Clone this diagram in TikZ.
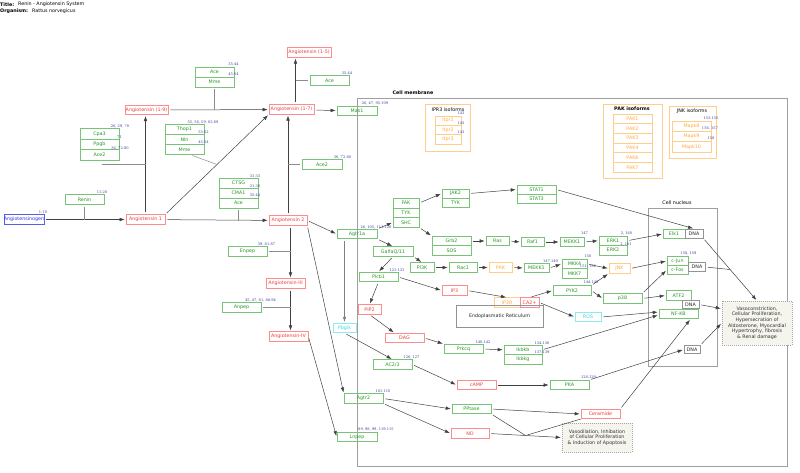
\documentclass[tikz,border=0pt]{standalone}
\usepackage{fontspec}
\setmainfont{DejaVu Sans}
\newfontfamily\numserif{DejaVu Serif}
\usetikzlibrary{arrows.meta,calc}
\definecolor{gbord}{RGB}{120,195,120}
\definecolor{gtext}{RGB}{40,150,40}
\definecolor{rbord}{RGB}{255,140,140}
\definecolor{rtext}{RGB}{235,60,60}
\definecolor{obord}{RGB}{255,205,140}
\definecolor{otext}{RGB}{255,170,60}
\definecolor{cbord}{RGB}{140,235,235}
\definecolor{ctext}{RGB}{60,215,215}
\definecolor{bbord}{RGB}{90,90,235}
\definecolor{btext}{RGB}{50,50,220}
\definecolor{numc}{RGB}{60,60,160}
\definecolor{phenfill}{RGB}{245,245,238}
\newcommand{\boxfont}{\fontsize{4.8}{5.6}\selectfont}
\newcommand{\numfont}{\numserif\fontsize{3.6}{4}\selectfont}
\begin{document}
\begin{tikzpicture}[x=1pt,y=-1pt,
  gbox/.style={draw=gbord,text=gtext,line width=0.6pt,inner sep=0pt,minimum height=9.5pt,font=\boxfont},
  rbox/.style={gbox,draw=rbord,text=rtext},
  obox/.style={gbox,draw=obord,text=otext},
  cbox/.style={gbox,draw=cbord,text=ctext},
  bbox/.style={gbox,draw=bbord,text=btext},
  dbox/.style={gbox,draw=gray!85,text=black!85},
  phen/.style={draw=gray!70,dash pattern=on 1pt off 1pt,fill=phenfill,text=black!80,font=\boxfont,align=center,inner sep=0pt,line width=0.5pt},
  num/.style={text=numc,font=\numfont,inner sep=0pt},
  wd/.style={minimum width=#1pt},
  ht/.style={minimum height=#1pt},
  rxn/.style={draw=black!75,line width=0.5pt,-{Latex[length=5pt,width=3.6pt]},shorten >=1pt,shorten <=2pt},
  cat/.style={draw=black!45,line width=0.5pt,shorten <=2pt},
  zone/.style={draw=gray!75,line width=0.8pt}
]
\useasboundingbox (0,0) rectangle (800,472);

\node[anchor=west,inner sep=0pt,font=\boxfont\bfseries] (ttl) at (0,4.5) {Title:};
\node[anchor=west,inner sep=0pt,font=\boxfont] (ttltxt) at (18,4.5) {Renin - Angiotensin System};
\node[anchor=west,inner sep=0pt,font=\boxfont\bfseries] (org) at (0,11) {Organism:};
\node[anchor=west,inner sep=0pt,font=\boxfont] (orgtxt) at (32,11) {Rattus norvegicus};

\draw[zone] (357,98) rectangle (787,466);
\node[inner sep=0pt,font=\boxfont\bfseries] (memlbl) at (413,93) {Cell membrane};
\draw[zone] (648,208) rectangle (717,366);
\node[inner sep=0pt,font=\boxfont] (nuclbl) at (677,203) {Cell nucleus};

\draw[draw=obord,line width=0.8pt] (425,104) rectangle (470,151);
\node[inner sep=0pt,font=\boxfont] (iprlbl) at (448,110) {IPR3 isoforms};
\draw[draw=obord,line width=0.8pt] (603,104) rectangle (662,178);
\node[inner sep=0pt,font=\boxfont\bfseries] (paklbl) at (632,108.5) {PAK isoforms};
\draw[draw=obord,line width=0.8pt] (669,106) rectangle (716,158);
\node[inner sep=0pt,font=\boxfont] (jnklbl) at (692,111) {JNK isoforms};

\node[bbox,wd=38] (agen) at (24,219.5) {Angiotensinogen};
\node[gbox,wd=39] (renin) at (84.5,199.5) {Renin};
\node[rbox,wd=39] (ang1) at (145.5,219.5) {Angiotensin 1};
\node[gbox,wd=39,ht=10.5] (cpa3) at (99.5,134) {Cpa3};
\node[gbox,wd=39,ht=10.5] (ppgb) at (99.5,144.5) {Ppgb};
\node[gbox,wd=39,ht=10.5] (ace2a) at (99.5,155) {Ace2};
\node[rbox,wd=43] (ang19) at (146.5,110) {Angiotensin (1-9)};
\node[gbox,wd=39,ht=10] (thop1) at (184.5,129.5) {Thop1};
\node[gbox,wd=39,ht=10] (nln) at (184.5,139.5) {Nln};
\node[gbox,wd=39,ht=10] (mme) at (184.5,149.5) {Mme};
\node[gbox,wd=39,ht=10] (acea) at (214.5,72) {Ace};
\node[gbox,wd=39,ht=10] (mmea) at (214.5,82) {Mme};
\node[rbox,wd=44] (ang15) at (309,52.5) {Angiotensin (1-5)};
\node[gbox,wd=39] (aceb) at (329.5,80.5) {Ace};
\node[rbox,wd=45] (ang17) at (291.5,109.5) {Angiotensin (1-7)};
\node[gbox,wd=40] (mas1) at (357,111) {Mas1};
\node[gbox,wd=40] (ace2b) at (322,164.5) {Ace2};
\node[gbox,wd=39,ht=10] (ctsg) at (238.5,183) {CTSG};
\node[gbox,wd=39,ht=10] (cma1) at (238.5,193) {CMA1};
\node[gbox,wd=39,ht=10] (acec) at (238.5,203) {Ace};
\node[rbox,wd=38] (ang2) at (288,220.5) {Angiotensin 2};
\node[gbox,wd=39] (enpep) at (247.5,251.5) {Enpep};
\node[rbox,wd=39] (ang3) at (285.5,283.5) {Angiotensin-III};
\node[gbox,wd=39] (anpep) at (241.5,307.5) {Anpep};
\node[rbox,wd=39] (ang4) at (288.5,336.5) {Angiotensin-IV};
\node[gbox,wd=40] (agtr1a) at (357,234) {Agtr1a};
\node[cbox,wd=23] (pbgik) at (344.5,328) {Pbgik};
\node[gbox,wd=39] (agtr2) at (363.5,398.5) {Agtr2};
\node[gbox,wd=40] (lnpep) at (357,437) {Lnpep};

\node[obox,wd=26,ht=9.3] (itpr1) at (448,120.7) {Itpr1};
\node[obox,wd=26,ht=9.3] (itpr2) at (448,130) {Itpr2};
\node[obox,wd=26,ht=9.3] (itpr3) at (448,139.3) {Itpr3};
\node[obox,wd=39,ht=9.7] (pak1) at (632.5,118.8) {PAK1};
\node[obox,wd=39,ht=9.7] (pak2) at (632.5,128.5) {PAK2};
\node[obox,wd=39,ht=9.7] (pak3) at (632.5,138.2) {PAK3};
\node[obox,wd=39,ht=9.7] (pak4) at (632.5,147.9) {PAK4};
\node[obox,wd=39,ht=9.7] (pak6) at (632.5,157.6) {PAK6};
\node[obox,wd=39,ht=9.7] (pak7) at (632.5,167.3) {PAK7};
\node[obox,wd=39,ht=10.3] (mapk8) at (691.5,126.2) {Mapk8};
\node[obox,wd=39,ht=10.3] (mapk9) at (691.5,136.5) {Mapk9};
\node[obox,wd=39,ht=10.3] (mapk10) at (691.5,146.8) {Mapk10};

\node[gbox,wd=26,ht=9.7] (fak) at (406,203) {FAK};
\node[gbox,wd=26,ht=9.7] (tyk) at (406,212.7) {TYK};
\node[gbox,wd=26,ht=9.7] (shc) at (406,222.4) {SHC};
\node[gbox,wd=27,ht=9] (jak2) at (455.5,193.5) {JAK2};
\node[gbox,wd=27,ht=9] (tykb) at (455.5,202.5) {TYK};
\node[gbox,wd=39,ht=9] (stat1) at (536.5,189.5) {STAT1};
\node[gbox,wd=39,ht=9] (stat3) at (536.5,198.5) {STAT3};
\node[gbox,wd=39,ht=9.5] (grb2) at (451.5,241) {Grb2};
\node[gbox,wd=39,ht=9.5] (sos) at (451.5,250.5) {SOS};
\node[gbox,wd=23] (ras) at (497.5,241) {Ras};
\node[gbox,wd=23] (raf1) at (532.5,242) {Raf1};
\node[gbox,wd=24] (mekk1) at (572,242) {MEKK1};
\node[gbox,wd=28,ht=9.5] (erk1) at (613,240.7) {ERK1};
\node[gbox,wd=28,ht=9.5] (erk2) at (613,250.2) {ERK2};
\node[gbox,wd=40] (galfa) at (393,251.5) {GalfaQ/11};
\node[gbox,wd=24] (pi3k) at (422,267.5) {PI3K};
\node[gbox,wd=28] (rac1) at (463,267.5) {Rac1};
\node[obox,wd=23] (pak) at (500.5,267.5) {PAK};
\node[gbox,wd=25] (mekk1b) at (536.5,268) {MEKK1};
\node[gbox,wd=25,ht=9.5] (mkk4) at (574.5,264) {MKK4};
\node[gbox,wd=25,ht=9.5] (mkk7) at (574.5,273.5) {MKK7};
\node[obox,wd=21] (jnk) at (619.5,268.5) {JNK};
\node[gbox,wd=39] (plcb1) at (378.5,277) {Plcb1};
\node[rbox,wd=25] (ip3) at (454.5,290.5) {IP3};
\node[rbox,wd=23] (pip2) at (369.5,309.5) {PIP2};
\node[obox,wd=26] (ip3r) at (507,302.5) {IP3R};
\node[rbox,wd=19] (ca2) at (529.5,302.5) {CA2+};
\node[dbox,wd=87,ht=22] (er) at (499.5,316) {Endoplasmatic Reticulum};
\node[gbox,wd=38] (pyk2) at (572,290.5) {PYK2};
\node[cbox,wd=26] (ros) at (588,317) {ROS};
\node[rbox,wd=39] (dag) at (404.5,338) {DAG};
\node[gbox,wd=39] (prkcq) at (463.5,349) {Prkcq};
\node[gbox,wd=38,ht=9.7] (ikbkb) at (523,349.8) {Ikbkb};
\node[gbox,wd=38,ht=9.7] (ikbkg) at (523,359.5) {Ikbkg};
\node[gbox,wd=39] (ac23) at (392.5,364.5) {AC2/3};
\node[rbox,wd=39] (camp) at (476.5,385) {cAMP};
\node[gbox,wd=39] (pka) at (569.5,385) {PKA};
\node[gbox,wd=39] (pptase) at (471.5,409) {PPtase};
\node[rbox,wd=38] (no) at (470,433.5) {NO};
\node[rbox,wd=39] (ceramide) at (600.5,414) {Ceramide};
\node[phen,minimum width=70pt,minimum height=29pt] (vasod) at (597,437.5) {Vasodilation, Inhibation\\of Cellular Proliferation\\\& Induction of Apoptosis};
\node[phen,minimum width=70pt,minimum height=44pt] (vasoc) at (757,323) {Vasoconstriction,\\Cellular Proliferation,\\Hypersecration of\\Aldosterone, Myocardial\\Hypertrophy, fibrosis\\\& Renal damage};

\node[gbox,wd=22] (elk1) at (674,234) {Elk1};
\node[dbox,wd=18,ht=9] (dna1) at (694,233.5) {DNA};
\node[gbox,wd=21,ht=9] (cjun) at (677.5,261) {c-Jun};
\node[gbox,wd=21,ht=9] (cfos) at (677.5,270) {c-Fos};
\node[dbox,wd=17,ht=9] (dna2) at (697,267) {DNA};
\node[gbox,wd=39] (p38) at (622.5,298.5) {p38};
\node[gbox,wd=25] (atf2) at (678.5,295.5) {ATF2};
\node[dbox,wd=17,ht=7.5] (dna3) at (690.5,304.5) {DNA};
\node[gbox,wd=39] (nfkb) at (678.5,314) {NF-KB};
\node[dbox,wd=16,ht=8] (dna4) at (692,349.5) {DNA};

\node[num] (n1) at (43,212) {1-10};
\node[num] (n2) at (102,192) {11-20};
\node[num] (n3) at (120,126) {26, 29, 70};
\node[num] (n4) at (119.5,137) {71};
\node[num] (n5) at (120,148) {36, 72-80};
\node[num] (n6) at (203,122) {55, 58, 59, 63-69};
\node[num] (n7) at (203.5,132) {55-62};
\node[num] (n8) at (203.5,142) {45-54};
\node[num] (n9) at (233.5,64) {35-44};
\node[num] (n10) at (233.5,74) {45-54};
\node[num] (n11) at (347,73) {35-44};
\node[num] (n12) at (375,103) {26, 47, 95-109};
\node[num] (n13) at (342.5,157) {36, 72-80};
\node[num] (n14) at (255,176) {31-33};
\node[num] (n15) at (255,186) {21-30};
\node[num] (n16) at (255,195) {35-44};
\node[num] (n17) at (266.5,244) {39, 81-87};
\node[num] (n18) at (260.5,300) {45, 47, 81, 88-94};
\node[num] (n19) at (376,227) {26, 105, 111-120};
\node[num] (n20) at (383,391) {101-110};
\node[num] (n21) at (376,429) {89, 98, 99, 119-115};
\node[num] (n22) at (461,113) {143};
\node[num] (n23) at (461,123) {143};
\node[num] (n24) at (461,132) {143};
\node[num] (n25) at (711,118) {153-155};
\node[num] (n26) at (710,128) {156, 157};
\node[num] (n27) at (711,138) {158};
\node[num] (n28) at (584.5,233) {147};
\node[num] (n29) at (626.5,233) {2, 160};
\node[num] (n30) at (626,244) {2, 161};
\node[num] (n31) at (550.5,261) {147-149};
\node[num] (n32) at (588,256) {150};
\node[num] (n33) at (588,266) {151, 152};
\node[num] (n34) at (591,282) {144-146};
\node[num] (n35) at (397,270) {121-133};
\node[num] (n36) at (688.5,253) {158, 159};
\node[num] (n37) at (483,342) {140-142};
\node[num] (n38) at (542,343) {134-136};
\node[num] (n39) at (542,352) {137-139};
\node[num] (n40) at (411.5,357) {126, 127};
\node[num] (n41) at (588.5,377) {128-129};

\coordinate (m1) at ($(ang1.north east)!0.5!(ang17.south west)$);
\coordinate (a23) at ([xshift=5pt]ang3.north |- ang2.south);
\coordinate (a34) at ([xshift=5pt]ang3.south);
\coordinate (a15) at ([xshift=4pt]ang17.north);
\coordinate (c9) at ([yshift=-4pt]ace2a.south);
\coordinate (m2) at ($(dna1.south east)!0.5!(vasoc.north)$);
\coordinate (j1) at ($(no.east)!0.5!(vasod.west)$);

\draw[rxn] (agen) -- (ang1);
\draw[cat] (renin.south) -- (renin.south |- agen.east);
\draw[rxn] (ang1.north) -- (ang1.north |- ang19.south);
\draw[cat] (c9) -- (ang1.north |- c9);
\draw[rxn] (ang19) -- (ang17);
\draw[cat] (mmea.south) -- (mmea.south |- ang19.east);
\draw[rxn] (ang1.north east) -- (ang17.south west);
\draw[cat] ([xshift=6pt]mme.south) -- (m1);
\draw[rxn] (ang1) -- (ang2);
\draw[cat] (acec.south) -- (acec.south |- ang2.west);
\draw[rxn] (ang2.north) -- (ang2.north |- ang17.south);
\draw[cat] (ace2b.west) -- (ace2b.west -| ang2.north);
\draw[rxn] (a15) -- (a15 |- ang15.south);
\draw[cat] (aceb.west) -- (aceb.west -| a15);
\draw[rxn] (ang17) -- (mas1);
\draw[rxn] (ang2.east) -- (agtr1a.west);
\draw[rxn] (a23) -- ([xshift=5pt]ang3.north);
\draw[cat] (enpep.east) -- (enpep.east -| a23);
\draw[rxn] (a34) -- (a34 |- ang4.north);
\draw[cat] (anpep.east) -- (anpep.east -| a34);
\draw[rxn] (ang2.south east) -- (agtr2.north west);
\draw[rxn] (ang4.east) -- (lnpep.west);

\draw[rxn,draw=black!50,line width=0.8pt] (pbgik |- agtr1a.south) -- (pbgik.north);
\draw[rxn] (pbgik.south) -- (ac23.north);
\draw[rxn] (agtr1a.north east) -- (shc.west);
\draw[rxn] (agtr1a.south east) -- (galfa.north);
\draw[rxn] (fak.east) -- (jak2.west);
\draw[rxn] (jak2.east) -- (stat1.west);
\draw[rxn] (stat1.east) -- (dna1.north);
\draw[rxn] (shc.south east) -- (grb2.north west);
\draw[rxn] (grb2.east) -- (ras.west);
\draw[rxn] (ras.east) -- (raf1.west);
\draw[rxn] (raf1.east) -- (mekk1.west);
\draw[rxn] (mekk1.east) -- (erk1.west);
\draw[rxn] (erk1.east) -- (elk1.west);
\draw[rxn] (galfa.south) -- (plcb1.north);
\draw[rxn] (galfa.south east) -- (pi3k.north);
\draw[rxn] (pi3k.east) -- (rac1.west);
\draw[rxn] (rac1.east) -- (pak.west);
\draw[rxn] (pak.east) -- (mekk1b.west);
\draw[rxn] (mekk1b.east) -- (mkk4.west);
\draw[rxn] (mkk4.east) -- (jnk.west);
\draw[rxn] (jnk.east) -- (cjun.west);
\draw[rxn] (plcb1.east) -- (ip3.west);
\draw[rxn] (plcb1.south) -- (pip2.north);
\draw[rxn] (ip3.east) -- (ip3r.north);
\draw[rxn] (ca2.north) -- (pyk2.west);
\draw[rxn] (ca2.east) -- (ros.west);
\draw[rxn] (pyk2.north east) -- (jnk.south west);
\draw[rxn] (pyk2.east) -- (p38.west);
\draw[rxn] (p38.north east) -- (cfos.west);
\draw[rxn] (p38.east) -- (atf2.west);
\draw[rxn] (ros.east) -- ([yshift=2pt]nfkb.west);
\draw[rxn] (ikbkb.east) -- ([yshift=-1pt]nfkb.west);
\draw[rxn] (pip2.south) -- ([xshift=-10pt]dag.north);
\draw[rxn] (dag.east) -- (prkcq.north west);
\draw[rxn] (prkcq.east) -- (ikbkb.west);
\draw[rxn] (ac23.east) -- (camp.west);
\draw[rxn] (camp.east) -- (pka.west);
\draw[rxn] (pka.north east) -- (dna4.west);
\draw[rxn] (ceramide.north east) -- ([xshift=12pt]nfkb.south);
\draw[rxn] (agtr2.east) -- (pptase.west);
\draw[rxn] (agtr2.south east) -- (no.west);
\draw[rxn] (pptase.east) -- (ceramide.west);
\draw[rxn] (no.east) -- (vasod.west);
\draw[cat,draw=black!75] (pptase.south east) -- (j1);
\draw[cat,draw=black!75] (j1) -- (ceramide.south west);

\draw[rxn] (dna1.south east) -- (vasoc.north);
\draw[cat,draw=black!75] (dna2.east) -- (m2);
\draw[rxn] (dna3.east) -- ([yshift=-8pt]vasoc.north west);
\draw[rxn] (dna4.north east) -- (vasoc.west);
\end{tikzpicture}
\end{document}
